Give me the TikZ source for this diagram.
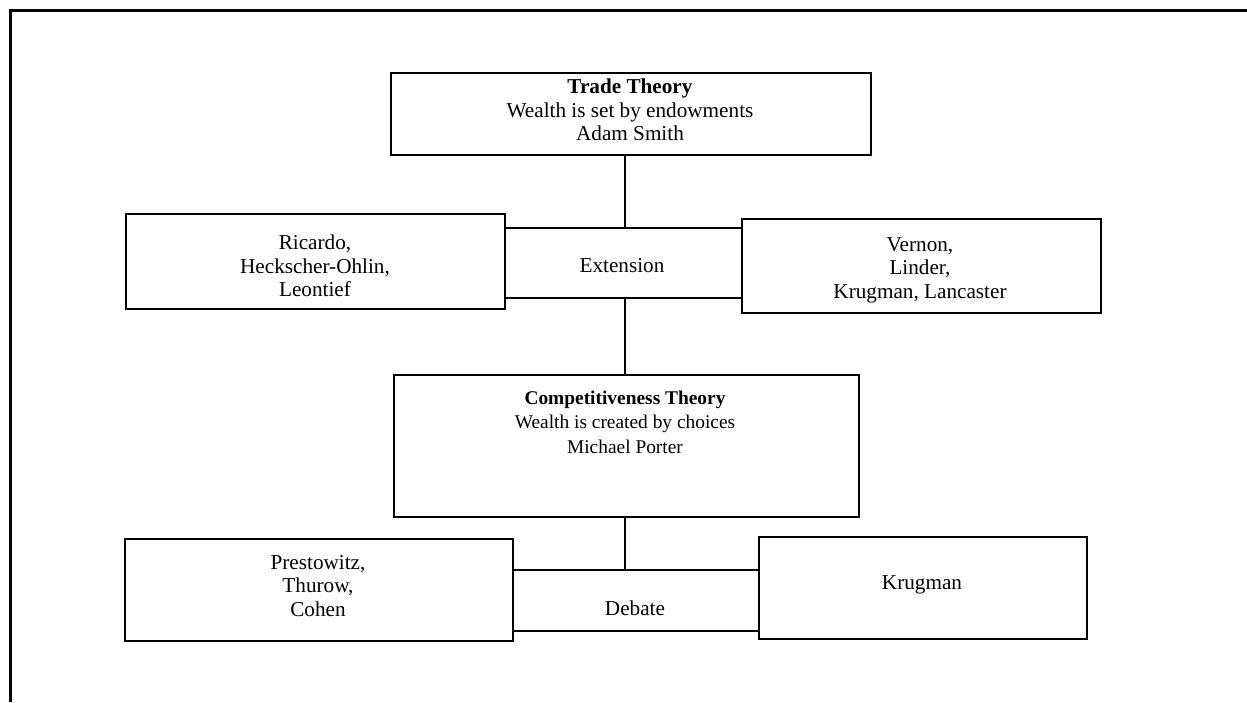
\documentclass[tikz,border=0pt]{standalone}
\usepackage{fontspec}
\setmainfont{Liberation Serif}
\begin{document}
\begin{tikzpicture}[x=1pt,y=-1pt,
  box/.style={draw=black,line width=1.6pt,fill=white,rectangle,inner sep=0pt,anchor=north west},
  txt/.style={align=center,inner sep=0pt,font=\fontsize{21.2}{23.5}\selectfont},
  txtsmall/.style={align=center,inner sep=0pt,font=\fontsize{19.4}{24.5}\selectfont},
  link/.style={draw=black,line width=1.6pt}]
\useasboundingbox (0,0) rectangle (1247,702);
% open frame: left and top edges only
\draw[line width=2.6pt] (10.5,702) -- (10.5,10.5) -- (1247,10.5);

% connector axis
\coordinate (cx) at (625,0);

% boxes
\node[box,minimum width=480,minimum height=82] (trade) at (390,72) {};
\node[box,minimum width=237,minimum height=70] (ext) at (504,227) {};
\node[box,minimum width=379,minimum height=95] (ricardo) at (125,213) {};
\node[box,minimum width=359,minimum height=94] (vernon) at (741,218) {};
\node[box,minimum width=465,minimum height=142] (comp) at (393,374) {};
\node[box,minimum width=246,minimum height=61] (debate) at (512,569) {};
\node[box,minimum width=388,minimum height=102] (prest) at (124,538) {};
\node[box,minimum width=328,minimum height=102] (krug) at (758,536) {};

% connectors
\draw[link] (trade.south -| cx) -- (ext.north -| cx);
\draw[link] (ext.south -| cx) -- (comp.north -| cx);
\draw[link] (comp.south -| cx) -- (debate.north -| cx);

% texts
\node[txt] (tradetxt) at (630,110) {\textbf{Trade Theory}\\Wealth is set by endowments\\Adam Smith};
\node[txt] (exttxt) at (622,266) {Extension};
\node[txt] (ricardotxt) at (315,266) {Ricardo,\\Heckscher-Ohlin,\\Leontief};
\node[txt] (vernontxt) at (920,270) {Vernon,\\Linder,\\Krugman, Lancaster};
\node[txtsmall] (comptxt) at (625,422) {\textbf{Competitiveness Theory}\\Wealth is created by choices\\Michael Porter};
\node[txt] (presttxt) at (318,586) {Prestowitz,\\Thurow,\\Cohen};
\node[txt] (debatetxt) at (635,608) {Debate};
\node[txt] (krugtxt) at (922,585) {Krugman};
\end{tikzpicture}
\end{document}
